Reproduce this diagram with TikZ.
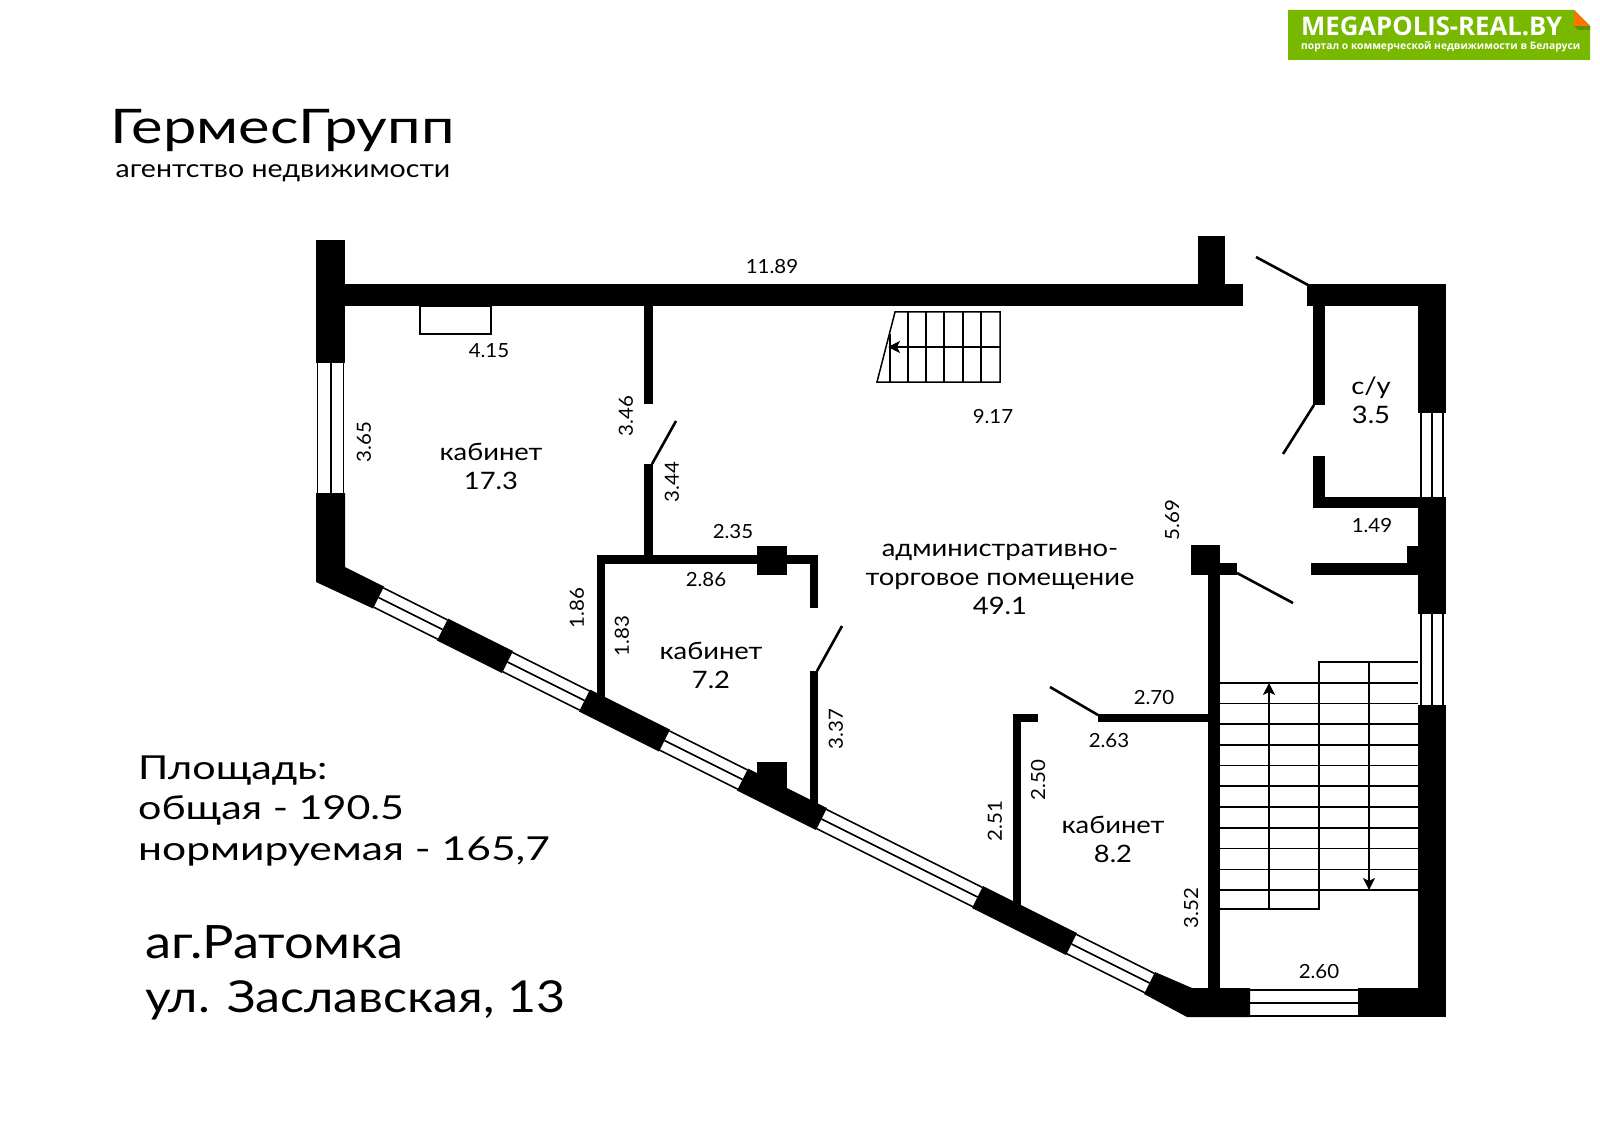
\documentclass[tikz,border=0pt]{standalone}
\usepackage{fontspec}
\setmainfont{Lato}
\newfontfamily\planfont[FakeStretch=1.14]{Lato}
\newfontfamily\dimfont[FakeStretch=1.05]{Lato}
\newfontfamily\widefont[FakeStretch=1.25]{Lato}
\newfontfamily\widerfont[FakeStretch=1.29]{Lato}
\newfontfamily\logofont{Open Sans}
\usetikzlibrary{arrows.meta,calc}

\definecolor{logogreen}{HTML}{78B900}
\definecolor{logoorange}{HTML}{FF7300}
\definecolor{logoshade}{HTML}{5F9400}

\begin{document}
\begin{tikzpicture}[
    x=1pt, y=-1pt,
    wall/.style={fill=black},
    door/.style={draw, line width=2.6pt},
    frame/.style={draw, line width=1.6pt},
    stair/.style={draw, line width=1.5pt},
    run/.style={draw, line width=1.3pt, -{Stealth[length=12pt, width=12pt, inset=3pt]}},
    dim/.style={inner sep=0pt, font=\dimfont\fontsize{19.5}{24}\selectfont},
    room/.style={inner sep=0pt, align=center, font=\planfont\fontsize{24}{29}\selectfont},
    title/.style={inner sep=0pt, anchor=base west}
]
    \useasboundingbox (0,0) rectangle (1600,1131);

    % Straight walls
    \foreach \xa/\ya/\xb/\yb in {316/240/345/363, 345/284/1243/306, 1198/236/1225/284,
        1307/284/1446/306, 1418/306/1446/413, 1313/306/1325/405, 1313/456/1325/508,
        1325/497/1418/508, 1418/497/1446/614, 1407/546/1418/575, 1311/563/1418/575,
        1191/545/1220/575, 1220/563/1237/575, 1208/575/1220/990, 1418/705/1446/1017,
        1358/988/1418/1017, 1098/714/1208/722, 1013/714/1038/722, 1013/722/1021/906,
        644/306/653/404, 644/464/653/555, 597/555/818/564, 597/564/605/700,
        757/546/787/575, 810/564/818/608, 810/671/818/806, 757/762/787/792} {
        \fill[wall] (\xa,\ya) rectangle (\xb,\yb);
    }

    % Corners of the outer wall
    \fill[wall] (316,493) -- (345,493) -- (345,567) -- (384,586.5) -- (373,608.5) -- (316,582) -- cycle;
    \fill[wall] (1155,972) -- (1192,988) -- (1250,988) -- (1250,1017) -- (1187,1017) -- (1144,994) -- cycle;

    % Diagonal wall: piers
    \foreach \a/\b in {448/513, 590/670, 748/827, 983/1077} {
        \fill[wall] (\a,{567+0.5*(\a-345)}) -- (\b,{567+0.5*(\b-345)})
            -- ({\b-11},{589+0.5*(\b-345)}) -- ({\a-11},{589+0.5*(\a-345)}) -- cycle;
    }

    % Diagonal wall: windows
    \foreach \a/\b in {384/448, 513/590, 670/748, 827/983, 1077/1155} {
        \foreach \t in {0.06, 0.5, 0.94} {
            \draw[frame] ({\a-11*\t},{567+22*\t+0.5*(\a-345)}) -- ({\b-11*\t},{567+22*\t+0.5*(\b-345)});
        }
    }

    % Straight windows
    \foreach \x in {317.5, 331, 343.5} {
        \draw[frame] (\x,363) -- (\x,493);
    }
    \foreach \x in {1421, 1432, 1443} {
        \draw[frame] (\x,413) -- (\x,497);
        \draw[frame] (\x,614) -- (\x,705);
    }
    \foreach \y in {990, 1003, 1016} {
        \draw[frame] (1250,\y) -- (1358,\y);
    }

    % Doors
    \draw[door] (1256,257) -- (1308,285);
    \draw[door] (1314,405) -- (1283,454);
    \draw[door] (1237,573) -- (1293,603);
    \draw[door] (1098,715) -- (1050,687);
    \draw[door] (652,464) -- (676,421);
    \draw[door] (817,671) -- (842,626);

    % Niche
    \draw[frame] (420,306) rectangle (491,334);

    % Small stair
    \draw[stair] (877,382) -- (895,312) -- (1000,312) -- (1000,382) -- cycle;
    \foreach \x in {908, 926, 944, 963, 981} {
        \draw[stair] (\x,312) -- (\x,382);
    }
    \draw[stair] (890,334) -- (890,382);
    \draw[run] (1000,347) -- (888,347);

    % Main stair
    \foreach \y in {683, 703.5, 724, 745, 765.5, 786, 807, 828, 848.5, 869.5, 890} {
        \draw[stair] (1220,\y) -- (1418,\y);
    }
    \draw[stair] (1220,909) -- (1319,909) -- (1319,662) -- (1418,662);
    \draw[run] (1269,909) -- (1269,683);
    \draw[run] (1369,662) -- (1369,890);

    % Room labels
    \node[room] (office_a) at (491,466) {кабинет\\17.3};
    \node[room] (office_b) at (711,665.5) {кабинет\\7.2};
    \node[room] (office_c) at (1113,839) {кабинет\\8.2};
    \node[room] (toilet) at (1371,400) {с/у\\3.5};
    \node[room] (hall) at (1000,579) {административно-\\торговое помещение\\49.1};

    % Dimensions
    \foreach \x/\y/\val in {772/266.5/11.89, 489/351/4.15, 733/532/2.35, 706/580/2.86, 993/417/9.17,
        1372/526/1.49, 1154/697.5/2.70, 1109/740.5/2.63, 1319/972/2.60} {
        \node[dim] (dim_\val) at (\x,\y) {\val};
    }
    \foreach \x/\y/\val in {364/442/3.65, 626/416/3.46, 672/482/3.44, 577/608/1.86, 622/636/1.83,
        836/729/3.37, 1172/520/5.69, 1038/780/2.50, 995/821/2.51, 1191/908/3.52} {
        \node[dim, rotate=90] (dim_\val) at (\x,\y) {\val};
    }

    % Agency name
    \node[title, font=\widefont\fontsize{47.7}{48}\selectfont] (agency) at (110,144) {ГермесГрупп};
    \node[title, font=\planfont\fontsize{25}{25}\selectfont] (agency_sub) at (115.5,177.5) {агентство недвижимости};

    % Areas and address
    \node[title, font=\widefont\fontsize{33}{33}\selectfont] (area_head) at (138,779) {Площадь:};
    \node[title, font=\widefont\fontsize{33}{33}\selectfont] (area_total) at (138,819) {общая - 190.5};
    \node[title, font=\widerfont\fontsize{33}{33}\selectfont] (area_norm) at (138,860) {нормируемая - 165,7};
    \node[title, font=\planfont\fontsize{46}{46}\selectfont] (town) at (145,958) {аг.Ратомка};
    \node[title, font=\planfont\fontsize{44}{44}\selectfont] (street) at (145,1012) {ул. Заславская, 13};

    % Logo
    \fill[logogreen] (1288,10) -- (1574,10) -- (1590,26) -- (1590,60) -- (1288,60) -- cycle;
    \fill[logoshade] (1574,26) -- (1590,26) -- (1590,30) -- (1578,30) -- cycle;
    \fill[logoorange] (1574,10) -- (1590,26) -- (1574,26) -- cycle;
    \node[title, text=white, font=\logofont\bfseries\fontsize{25.7}{26}\selectfont] (logo) at (1301,36) {MEGAPOLIS-REAL.BY};
    \node[title, text=white, font=\logofont\bfseries\fontsize{10.3}{12}\selectfont] (logo_sub) at (1301,50) {портал о коммерческой недвижимости в Беларуси};
\end{tikzpicture}
\end{document}
